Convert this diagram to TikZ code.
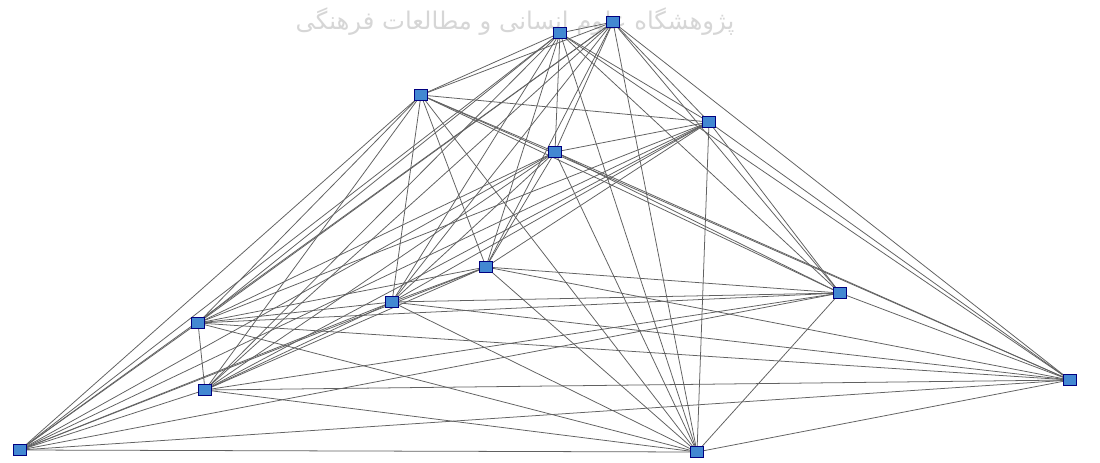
\documentclass[tikz,border=0pt]{standalone}
\usepackage{fontspec}
\newfontfamily\arabicfont[Script=Arabic]{DejaVu Sans}
\TeXXeTstate=1
\begin{document}
\begin{tikzpicture}[x=0.025cm,y=-0.025cm,
  vert/.style={draw=blue!50!black,fill={rgb,255:red,66;green,136;blue,210},minimum width=0.33cm,minimum height=0.27cm,inner sep=0pt,line width=0.4pt},
  edge/.style={draw=black!62,line width=0.55pt},
  wm/.style={text=black!16,font=\arabicfont\LARGE}]
\useasboundingbox (0,0) rectangle (1100,462);
\fill[white] (0,0) rectangle (1100,462);
\node[wm] (wm1) at (515,22) {\beginR پژوهشگاه علوم انسانی و مطالعات فرهنگی\endR};
\coordinate (A) at (421,95);
\coordinate (B) at (560,33);
\coordinate (C) at (613,22);
\coordinate (D) at (709,122);
\coordinate (E) at (555,152);
\coordinate (F) at (486,267);
\coordinate (G) at (392,302);
\coordinate (H) at (840,293);
\coordinate (I) at (198,323);
\coordinate (J) at (205,390);
\coordinate (K) at (20,450);
\coordinate (L) at (697,452);
\coordinate (M) at (1070,380);
\foreach \a/\b in {A/B,A/C,A/D,A/E,A/F,A/G,A/H,A/I,A/J,A/K,A/L,A/M,
  B/C,B/D,B/E,B/F,B/G,B/H,B/I,B/J,B/K,B/L,B/M,
  C/D,C/E,C/F,C/G,C/H,C/I,C/J,C/K,C/L,C/M,
  D/E,D/F,D/G,D/H,D/I,D/J,D/K,D/L,D/M,
  E/F,E/G,E/H,E/I,E/J,E/K,E/L,E/M,
  F/G,F/H,F/I,F/J,F/K,F/L,F/M,
  G/H,G/I,G/J,G/K,G/L,G/M,
  H/I,H/J,H/K,H/L,H/M,
  I/J,I/K,I/L,I/M,
  J/K,J/L,J/M,
  K/L,K/M,
  L/M}
  \draw[edge] (\a) -- (\b);
\foreach \n in {A,B,C,D,E,F,G,H,I,J,K,L,M}
  \node[vert] (n\n) at (\n) {};
\end{tikzpicture}
\end{document}
